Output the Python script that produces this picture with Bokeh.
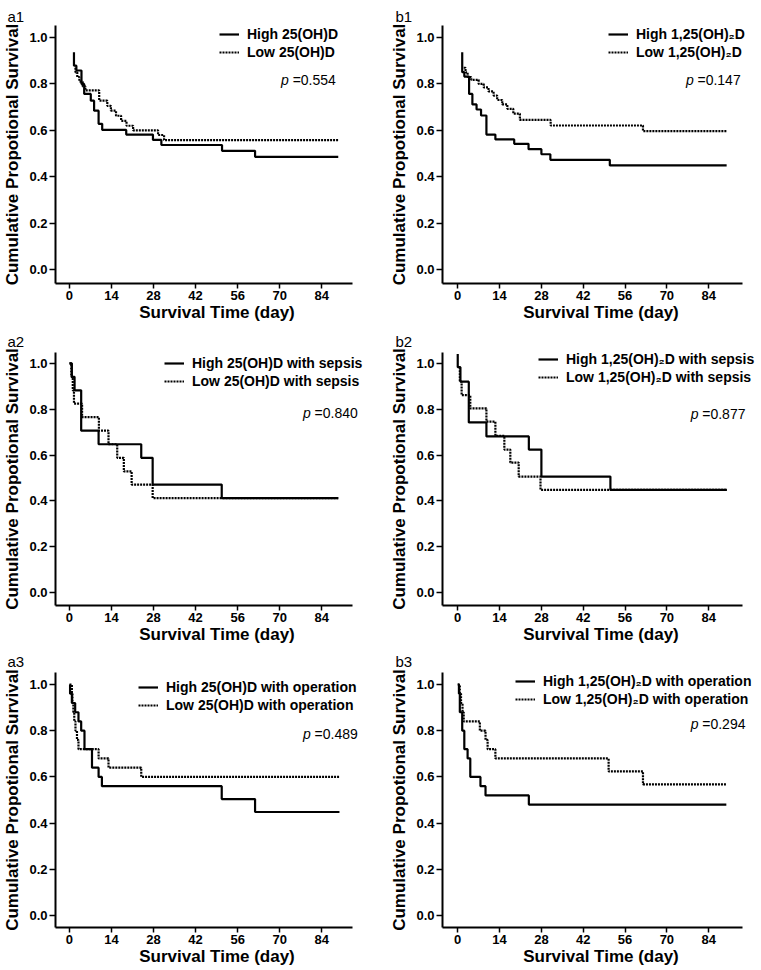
from bokeh.plotting import figure
from bokeh.layouts import gridplot
from bokeh.models import Legend, LegendItem, Label, FixedTicker, PrintfTickFormatter, Range1d
from bokeh.embed import file_html
from bokeh.resources import INLINE

FONT = "Liberation Sans"

# ---------------- data ----------------
x_ticks = [0, 14, 28, 42, 56, 70, 84]
y_ticks = [0.0, 0.2, 0.4, 0.6, 0.8, 1.0]
x_title = "Survival Time (day)"
y_title = "Cumulative Propotional Survival"

panel_names = ["a1", "b1", "a2", "b2", "a3", "b3"]
p_values = ["0.554", "0.147", "0.840", "0.877", "0.489", "0.294"]

high_labels = ["High 25(OH)D", "High 1,25(OH)\u2082D",
               "High 25(OH)D with sepsis", "High 1,25(OH)\u2082D with sepsis",
               "High 25(OH)D with operation", "High 1,25(OH)\u2082D with operation"]
low_labels = ["Low 25(OH)D", "Low 1,25(OH)\u2082D",
              "Low 25(OH)D with sepsis", "Low 1,25(OH)\u2082D with sepsis",
              "Low 25(OH)D with operation", "Low 1,25(OH)\u2082D with operation"]

# a1
a1_high_t = [1.5, 1.5, 2.3, 4.0, 4.9, 7.1, 8.2, 9.7, 10.9, 18.9, 27.8, 30.6, 50.8, 61.8, 89.5]
a1_high_s = [0.937, 0.879, 0.858, 0.800, 0.757, 0.728, 0.685, 0.628, 0.602, 0.582, 0.559, 0.537, 0.512, 0.486, 0.486]
a1_low_t = [2.0, 2.0, 2.6, 3.3, 4.4, 5.3, 9.9, 12.6, 13.8, 15.5, 17.2, 19.0, 21.2, 29.5, 31.5, 89.5]
a1_low_s = [0.870, 0.850, 0.830, 0.810, 0.790, 0.772, 0.728, 0.706, 0.685, 0.663, 0.641, 0.620, 0.600, 0.580, 0.558, 0.558]
# b1
b1_high_t = [1.5, 1.5, 2.2, 3.8, 4.9, 6.3, 7.8, 9.6, 12.6, 18.9, 23.7, 28.0, 31.0, 50.9, 90.0]
b1_high_s = [0.937, 0.851, 0.832, 0.757, 0.712, 0.690, 0.664, 0.582, 0.561, 0.542, 0.519, 0.497, 0.473, 0.449, 0.449]
b1_low_t = [2.0, 2.6, 3.3, 4.5, 7.0, 8.7, 10.3, 12.0, 13.2, 14.9, 16.6, 18.6, 20.8, 31.1, 62.0, 90.0]
b1_low_s = [0.870, 0.850, 0.830, 0.818, 0.800, 0.785, 0.768, 0.750, 0.731, 0.712, 0.693, 0.672, 0.645, 0.621, 0.597, 0.597]
# a2
a2_high_t = [0.0, 0.8, 1.7, 3.9, 9.7, 23.9, 27.7, 50.7, 89.5]
a2_high_s = [1.000, 0.941, 0.882, 0.706, 0.647, 0.588, 0.471, 0.412, 0.412]
a2_low_t = [0.0, 0.6, 1.1, 1.5, 4.2, 9.8, 13.0, 15.9, 18.1, 20.7, 27.7, 89.5]
a2_low_s = [1.000, 0.941, 0.882, 0.824, 0.765, 0.706, 0.647, 0.588, 0.529, 0.471, 0.412, 0.412]
# b2
b2_high_t = [0.0, 0.0, 0.9, 3.7, 9.6, 23.8, 28.0, 51.1, 90.1]
b2_high_s = [1.040, 0.983, 0.920, 0.742, 0.681, 0.624, 0.506, 0.448, 0.448]
b2_low_t = [0.7, 0.7, 1.3, 4.2, 9.6, 12.6, 15.6, 17.6, 20.4, 27.7, 90.1]
b2_low_s = [0.983, 0.920, 0.861, 0.803, 0.746, 0.684, 0.624, 0.567, 0.506, 0.448, 0.448]
# a3
a3_high_t = [0.2, 0.2, 0.8, 1.9, 3.0, 3.9, 5.0, 7.5, 9.7, 10.8, 50.7, 61.8, 89.9]
a3_high_s = [1.000, 0.960, 0.920, 0.880, 0.840, 0.800, 0.720, 0.640, 0.600, 0.560, 0.504, 0.448, 0.448]
a3_low_t = [0.0, 0.8, 1.0, 1.3, 1.6, 2.0, 2.5, 3.0, 9.7, 13.0, 23.9, 89.9]
a3_low_s = [1.000, 0.960, 0.920, 0.880, 0.840, 0.800, 0.760, 0.720, 0.680, 0.640, 0.600, 0.600]
# b3
b3_high_t = [0.0, 0.4, 0.7, 1.5, 2.2, 3.3, 4.2, 7.6, 9.3, 23.8, 89.9]
b3_high_s = [1.000, 0.960, 0.880, 0.800, 0.720, 0.680, 0.600, 0.560, 0.520, 0.480, 0.480]
b3_low_t = [0.0, 0.7, 1.1, 1.6, 2.0, 7.4, 9.3, 10.0, 12.6, 50.5, 62.0, 89.9]
b3_low_s = [1.000, 0.960, 0.920, 0.880, 0.840, 0.800, 0.760, 0.720, 0.680, 0.624, 0.568, 0.568]

curves = [
    (a1_high_t, a1_high_s, a1_low_t, a1_low_s),
    (b1_high_t, b1_high_s, b1_low_t, b1_low_s),
    (a2_high_t, a2_high_s, a2_low_t, a2_low_s),
    (b2_high_t, b2_high_s, b2_low_t, b2_low_s),
    (a3_high_t, a3_high_s, a3_low_t, a3_low_s),
    (b3_high_t, b3_high_s, b3_low_t, b3_low_s),
]

# ---------------- layout / style ----------------
ROWS = [(327, 25, 44), (321, 22, 43), (321, 23, 42)]   # height, top border, bottom border
COLS = [(380, 54, 2), (381, 62, 2)]                     # width, left border, right border
XR = [(-4.65, 102.9), (-5.1, 101.0)]                    # frame x range
XB = [(-4.65, 94.3), (-5.1, 95.3)]                      # drawn x-axis extent
YR = [(-0.060, 1.052), (-0.056, 1.047), (-0.052, 1.052)]
LEG_X = [164, 166, 109, 96, 83, 73]          # legend sample left, px from frame left
LEG_DY = [9, 9, 14, 10, 16, 10]              # first legend row centre, px below frame top
P_POS = [(88.7, 0.815), (94.7, 0.819), (96.0, 0.784), (96.3, 0.777), (96.0, 0.786), (96.3, 0.828)]
TITLE_STANDOFF = [2, 2, 6, 6, 5, 5]
TITLE_OFFSET = [-48, -47]
ROW_H = 18


def make_panel(i):
    row, col = divmod(i, 2)
    H, T, B = ROWS[row]
    W, L, R = COLS[col]
    fh = H - T - B
    p = figure(width=W, height=H, x_range=Range1d(*XR[col]), y_range=Range1d(*YR[row]),
               output_backend="svg", toolbar_location=None,
               min_border_left=L, min_border_right=R, min_border_top=T, min_border_bottom=B,
               title=panel_names[i])
    p.outline_line_color = None
    p.grid.visible = False
    p.background_fill_color = "white"
    p.border_fill_color = "white"

    p.title.text_font = FONT
    p.title.text_font_style = "normal"
    p.title.text_font_size = "15px"
    p.title.text_color = "black"
    p.title.align = "left"
    p.title.offset = TITLE_OFFSET[col]
    p.title.standoff = TITLE_STANDOFF[i]

    for ax in (p.xaxis[0], p.yaxis[0]):
        ax.axis_line_width = 2
        ax.axis_line_color = "black"
        ax.major_tick_line_width = 1.5
        ax.major_tick_line_color = "black"
        ax.major_tick_in = 0
        ax.major_tick_out = 5
        ax.minor_tick_line_color = None
        ax.major_label_text_font = FONT
        ax.major_label_text_font_style = "bold"
        ax.major_label_text_font_size = "13px"
        ax.major_label_text_color = "black"
        ax.major_label_standoff = 2
        ax.axis_label_text_font = FONT
        ax.axis_label_text_font_style = "bold"
        ax.axis_label_text_font_size = "17px"
        ax.axis_label_text_color = "black"
        ax.axis_label_standoff = 0
    p.yaxis[0].major_tick_out = 6
    p.yaxis[0].axis_label_standoff = 4
    p.xaxis[0].bounds = XB[col]
    p.xaxis[0].ticker = FixedTicker(ticks=x_ticks)
    p.yaxis[0].ticker = FixedTicker(ticks=y_ticks)
    p.yaxis[0].formatter = PrintfTickFormatter(format="%.1f")
    p.xaxis[0].axis_label = x_title
    p.yaxis[0].axis_label = y_title

    ht, hs, lt, ls = curves[i]
    r1 = p.step(x=ht, y=hs, mode="after", line_width=2.2, line_color="black")
    r2 = p.step(x=lt, y=ls, mode="after", line_width=2.2, line_color="black", line_dash="2 1")

    legend = Legend(items=[LegendItem(label=high_labels[i], renderers=[r1]),
                           LegendItem(label=low_labels[i], renderers=[r2])],
                    location=(LEG_X[i], fh - (LEG_DY[i] - ROW_H / 2) - 2 * ROW_H),
                    padding=0, margin=0, spacing=0, glyph_width=20, glyph_height=ROW_H,
                    label_height=ROW_H, label_standoff=8,
                    label_text_font=FONT, label_text_font_style="bold",
                    label_text_font_size="14px", label_text_color="black",
                    border_line_alpha=0, background_fill_alpha=0)
    p.add_layout(legend)

    px, py = P_POS[i]
    p.add_layout(Label(x=px, y=py, text="=" + p_values[i], text_align="right",
                       text_baseline="middle", text_font=FONT, text_font_size="14px",
                       text_color="black"))
    p.add_layout(Label(x=px, y=py, x_offset=-47, text="p", text_align="right",
                       text_baseline="middle", text_font=FONT, text_font_size="14px",
                       text_font_style="italic", text_color="black"))
    return p


panels = [make_panel(i) for i in range(6)]
grid = gridplot([[panels[0], panels[1]], [panels[2], panels[3]], [panels[4], panels[5]]],
                toolbar_location=None)

open("out.html", "w").write(file_html(grid, INLINE))
